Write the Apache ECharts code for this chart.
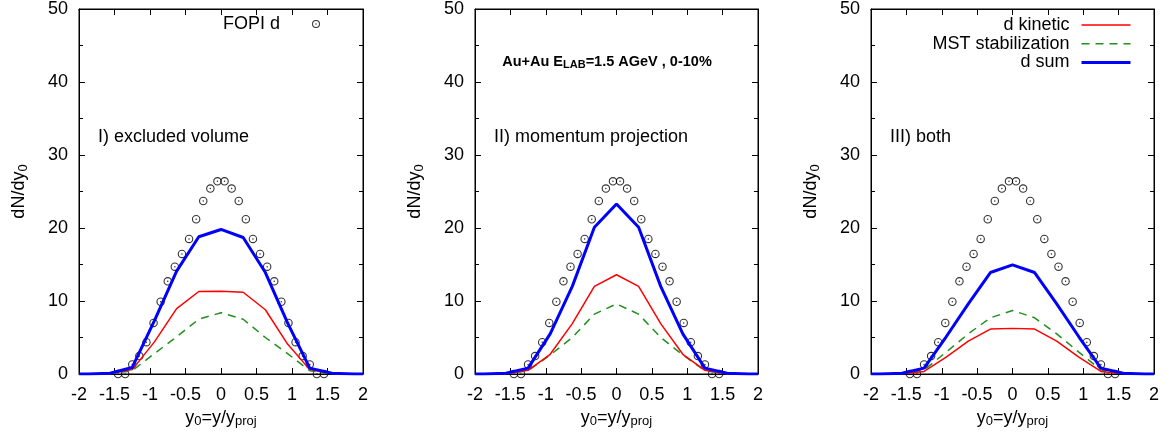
<!DOCTYPE html>
<html>
<head>
<meta charset="utf-8">
<script src="https://cdn.jsdelivr.net/npm/echarts@6/dist/echarts.min.js"></script>
<style>html,body{margin:0;padding:0;background:#fff}#c{width:1174px;height:440px}</style>
</head>
<body>
<div id="c"></div>
<script>
// ---- data ----
const fopiX = [-1.45,-1.35,-1.25,-1.15,-1.05,-0.95,-0.85,-0.75,-0.65,-0.55,-0.45,-0.35,-0.25,-0.15,-0.05,0.05,0.15,0.25,0.35,0.45,0.55,0.65,0.75,0.85,0.95,1.05,1.15,1.25,1.35,1.45];
const fopiY = [0,0,1.3,2.45,4.36,7.0,9.9,12.7,14.7,16.45,18.5,21.2,23.7,25.4,26.4,26.4,25.4,23.7,21.2,18.5,16.45,14.7,12.7,9.9,7.0,4.36,2.45,1.3,0,0];
const modelX = [-2,-1.875,-1.5625,-1.25,-0.9375,-0.625,-0.3125,0,0.3125,0.625,0.9375,1.25,1.5625,1.875,2];
// panel I) excluded volume
const kin1 = [0,0,0.05,0.6,4.4,8.95,11.3,11.35,11.2,8.8,4.1,0.6,0.05,0,0];
const mst1 = [0,0,0.02,0.45,2.8,5.1,7.5,8.4,7.5,5.0,2.8,0.45,0.02,0,0];
const sum1 = [0,0,0.1,0.9,7.3,14.1,18.8,19.8,18.7,13.9,7.0,0.8,0.1,0,0];
// panel II) momentum projection
const kin2 = [0,0,0.05,0.5,2.7,6.9,12.0,13.6,12.0,6.9,2.7,0.5,0.05,0,0];
const mst2 = [0,0,0.02,0.45,2.6,5.0,8.2,9.6,8.2,5.0,2.6,0.45,0.02,0,0];
const sum2 = [0,0,0.1,0.8,5.5,12.0,20.1,23.3,20.1,12.0,5.5,0.8,0.1,0,0];
// panel III) both
const kin3 = [0,0,0.03,0.35,2.3,4.5,6.15,6.25,6.15,4.5,2.3,0.35,0.03,0,0];
const mst3 = [0,0,0.03,0.55,3.0,5.5,7.7,8.7,7.7,5.5,3.0,0.55,0.03,0,0];
const sum3 = [0,0,0.1,0.8,5.1,9.6,13.9,14.95,13.9,9.6,5.1,0.8,0.1,0,0];
const panelLabels = ['I) excluded volume','II) momentum projection','III) both'];
const seriesNames = ['d kinetic','MST stabilization','d sum'];
const fopiName = 'FOPI d';

// ---- chart ----
const FONT = "'Liberation Sans', Arial, Helvetica, sans-serif";
const FS = 18;
const ring = 'path://M0,-10A10,10,0,1,1,0,10A10,10,0,1,1,0,-10ZM0,-7.4A7.4,7.4,0,1,0,0,7.4A7.4,7.4,0,1,0,0,-7.4ZM0,-1.8A1.8,1.8,0,1,1,0,1.8A1.8,1.8,0,1,1,0,-1.8Z';
const grids = [{left:79,width:284},{left:475,width:283},{left:871,width:283}];
const panels = [[kin1,mst1,sum1],[kin2,mst2,sum2],[kin3,mst3,sum3]];
const pair = (xs, ys) => xs.map((x,i)=>[x, ys[i]]);

const option = {
  animation:false,
  backgroundColor:'#fff',
  textStyle:{fontFamily:FONT},
  grid: grids.map(g=>({left:g.left, width:g.width, top:7, height:367, show:true, borderColor:'#000', borderWidth:1, backgroundColor:'transparent'})),
  xAxis: [],
  yAxis: [],
  series: [],
  legend: [
    {data:[{name:fopiName, icon:ring}], right:854, top:15, padding:0, itemWidth:8, itemHeight:8, align:'right',
     textStyle:{fontSize:FS, fontFamily:FONT, color:'#000', lineHeight:18, padding:[0,27,0,0]}, selectedMode:false},
    {data:seriesNames, right:42, top:16, padding:0, orient:'vertical', itemWidth:49, itemHeight:14, itemGap:0.7, align:'right',
     itemStyle:{opacity:0}, lineStyle:{width:'inherit'},
     textStyle:{fontSize:FS, fontFamily:FONT, color:'#000', lineHeight:18, padding:[0,7,0,0]}, selectedMode:false}
  ],
  graphic: []
};

const rich = {n:{fontSize:FS, fontFamily:FONT, color:'#000'}, s:{fontSize:13, fontFamily:FONT, color:'#000', padding:[8,0,0,0]}};

grids.forEach((g,gi)=>{
  option.xAxis.push({gridIndex:gi, type:'value', min:-2, max:2, interval:0.5, position:'bottom',
    axisLine:{show:true, onZero:false, lineStyle:{color:'#000', width:1}},
    axisTick:{show:true, inside:true, length:6, lineStyle:{color:'#000'}},
    axisLabel:{fontSize:FS, fontFamily:FONT, color:'#000', margin:12},
    splitLine:{show:false},
    name:'{n|y}{s|0}{n|=y/y}{s|proj}', nameLocation:'middle', nameGap:33, nameTextStyle:{rich:rich}});
  option.xAxis.push({gridIndex:gi, type:'value', min:-2, max:2, interval:0.5, position:'top',
    axisLine:{show:true, onZero:false, lineStyle:{color:'#000', width:1}},
    axisTick:{show:true, inside:true, length:6, lineStyle:{color:'#000'}},
    axisLabel:{show:false}, splitLine:{show:false}});
  option.yAxis.push({gridIndex:gi, type:'value', min:0, max:50, interval:10, position:'left',
    axisLine:{show:true, onZero:false, lineStyle:{color:'#000', width:1}},
    axisTick:{show:true, inside:true, length:6, lineStyle:{color:'#000'}},
    minorTick:{show:true, splitNumber:2, length:4, lineStyle:{color:'#000'}},
    axisLabel:{fontSize:FS, fontFamily:FONT, color:'#000', margin:11},
    splitLine:{show:false},
    name:'{n|dN/dy}{s|0}', nameLocation:'middle', nameGap:49, nameRotate:90, nameTextStyle:{rich:rich}});
  option.yAxis.push({gridIndex:gi, type:'value', min:0, max:50, interval:10, position:'right',
    axisLine:{show:true, onZero:false, lineStyle:{color:'#000', width:1}},
    axisTick:{show:true, inside:true, length:6, lineStyle:{color:'#000'}},
    minorTick:{show:true, splitNumber:2, length:4, lineStyle:{color:'#000'}},
    axisLabel:{show:false}, splitLine:{show:false}});

  const xi = gi*2, yi = gi*2;
  option.series.push({name:fopiName, type:'scatter', xAxisIndex:xi, yAxisIndex:yi, symbol:ring, symbolSize:8.5,
    itemStyle:{color:'#000'}, data:pair(fopiX, fopiY), z:1, silent:true});
  const [k,m,s] = panels[gi];
  option.series.push({name:seriesNames[0], type:'line', xAxisIndex:xi, yAxisIndex:yi, symbol:'none',
    lineStyle:{color:'#ff0000', width:1.5}, itemStyle:{color:'#ff0000'}, data:pair(modelX,k), z:3});
  option.series.push({name:seriesNames[1], type:'line', xAxisIndex:xi, yAxisIndex:yi, symbol:'none',
    lineStyle:{color:'#209020', width:1.5, type:[8,6]}, itemStyle:{color:'#209020'}, data:pair(modelX,m), z:2});
  option.series.push({name:seriesNames[2], type:'line', xAxisIndex:xi, yAxisIndex:yi, symbol:'none',
    lineStyle:{color:'#0000ff', width:3}, itemStyle:{color:'#0000ff'}, data:pair(modelX,s), z:4});

  option.graphic.push({type:'text', x:g.left+19, y:137, style:{text:panelLabels[gi], fontSize:FS, fontFamily:FONT, fill:'#000', verticalAlign:'middle'}});
});

option.graphic.push({type:'text', x:607, y:62, style:{
  text:'{b|Au+Au E}{s|LAB}{b|=1.5 AGeV , 0-10%}', align:'center', verticalAlign:'middle',
  rich:{b:{fontSize:14.5, fontWeight:'bold', fontFamily:FONT, fill:'#000'}, s:{fontSize:11, fontWeight:'bold', fontFamily:FONT, fill:'#000', padding:[6,0,0,0]}}
}});

const chart = echarts.init(document.getElementById('c'), null, {renderer:'canvas'});
chart.setOption(option);
</script>
</body>
</html>
